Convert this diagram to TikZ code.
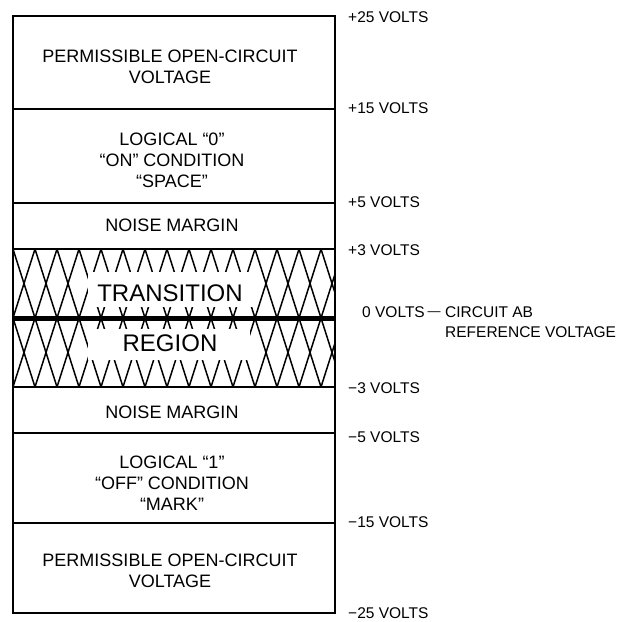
\documentclass[tikz,border=0pt]{standalone}
\usepackage{fontspec}
\setmainfont{Liberation Sans}
\begin{document}
\begin{tikzpicture}[x=1pt,y=-1pt,
  boxtext/.style={font=\fontsize{18}{21}\selectfont, align=center, inner sep=0pt},
  bigtext/.style={font=\fontsize{24}{28}\selectfont, inner sep=0pt},
  volt/.style={font=\fontsize{15.5}{20}\selectfont, anchor=west, inner sep=0pt},
  divider/.style={line width=1.6pt},
  hatch/.style={line width=1.5pt},
  outline/.style={line width=2pt}]
\useasboundingbox (0,0) rectangle (626,621);

% hatching of the transition region
\begin{scope}
  \clip (13,249) rectangle (335,387);
  \foreach \t/\b in {249/318, 318/387}{
    \foreach \k in {0,...,15}{
      \pgfmathsetmacro\xa{13+22*\k}
      \draw[hatch] (\xa,\t) -- (\xa+22,\b) (\xa,\b) -- (\xa+22,\t);
    }
  }
\end{scope}
\fill[white] (88,272) rectangle (253,307);
\fill[white] (88,329) rectangle (250,360);

% box texts
\node[boxtext] (perm1) at (170,67) {PERMISSIBLE OPEN-CIRCUIT\\VOLTAGE};
\node[boxtext] (log0) at (172,160.5) {LOGICAL “0”\\“ON” CONDITION\\“SPACE”};
\node[boxtext] (noise1) at (172,225) {NOISE MARGIN};
\node[bigtext] (trans) at (170,293) {TRANSITION};
\node[bigtext] (region) at (170,343) {REGION};
\node[boxtext] (noise2) at (172,412) {NOISE MARGIN};
\node[boxtext] (log1) at (172,483.5) {LOGICAL “1”\\“OFF” CONDITION\\“MARK”};
\node[boxtext] (perm2) at (170,571) {PERMISSIBLE OPEN-CIRCUIT\\VOLTAGE};

% dividers and outline
\draw[divider] (13,109) -- (335,109);
\draw[divider] (13,203) -- (335,203);
\draw[divider] (13,249) -- (335,249);
\draw[line width=5pt] (13,318) -- (335,318);
\draw[divider] (13,387) -- (335,387);
\draw[divider] (13,433) -- (335,433);
\draw[divider] (13,523) -- (335,523);
\draw[outline] (13,16) rectangle (335,613);

% voltage labels
\node[volt] (v25) at (348,17) {+25 VOLTS};
\node[volt] (v15) at (348,108) {+15 VOLTS};
\node[volt] (v5) at (348,202) {+5 VOLTS};
\node[volt] (v3) at (348,250) {+3 VOLTS};
\node[volt] (v0) at (362,312) {0 VOLTS};
\node[font=\fontsize{13}{13}\selectfont, inner sep=0pt] (dash) at (434,314) {—};
\node[volt, align=left] (ref) at (445,322) {CIRCUIT AB\\REFERENCE VOLTAGE};
\node[volt] (vm3) at (348,388) {−3 VOLTS};
\node[volt] (vm5) at (348,437) {−5 VOLTS};
\node[volt] (vm15) at (348,522) {−15 VOLTS};
\node[volt] (vm25) at (348,613) {−25 VOLTS};
\end{tikzpicture}
\end{document}
